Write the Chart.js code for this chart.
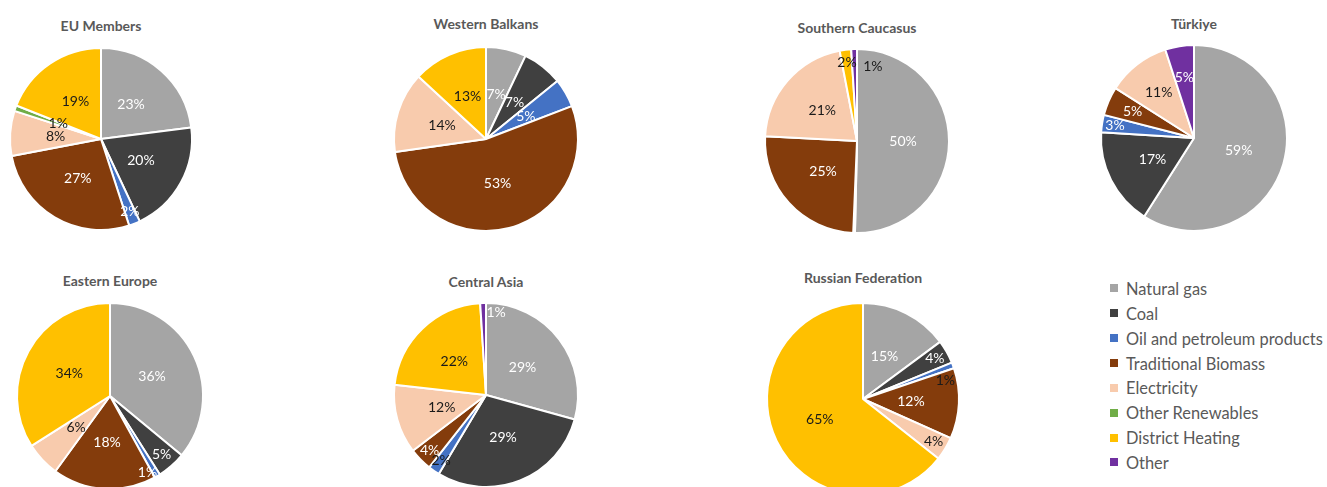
<!DOCTYPE html>
<html>
<head>
<meta charset="utf-8">
<script src="https://cdn.jsdelivr.net/npm/chart.js@4.4.1/dist/chart.umd.min.js"></script>
<style>
  html, body { margin: 0; padding: 0; background: #fff; width: 1327px; height: 487px; overflow: hidden; }
  body { position: relative; font-family: Lato, "Open Sans", sans-serif; }
  canvas.pie { position: absolute; }
  .title { position: absolute; font: bold 14px Lato, sans-serif; color: #595959; transform: translate(-50%, -50%); white-space: nowrap; }
  #legend { position: absolute; left: 1110px; top: 276px; font: 16.4px Lato, sans-serif; color: #595959; }
  #legend .item { height: 24.86px; display: flex; align-items: center; white-space: nowrap; }
  #legend .sw { width: 8px; height: 8px; margin-right: 8px; flex: none; }
</style>
</head>
<body>
<div id="legend"></div>
<script>
// Energy sources used for heating, share of final consumption (%)
const categories = ['Natural gas', 'Coal', 'Oil and petroleum products', 'Traditional Biomass',
                    'Electricity', 'Other Renewables', 'District Heating', 'Other'];
const regions = ['EU Members', 'Western Balkans', 'Southern Caucasus', 'Türkiye',
                 'Eastern Europe', 'Central Asia', 'Russian Federation'];

// One array per region, values in category order
const euMembers         = [23, 20, 2,   27,  8, 1, 19, 0];
const westernBalkans    = [ 7,  7, 5,   53, 14, 0, 13, 0];
const southernCaucasus  = [50,  0, 0.3, 25, 21, 0,  2, 1];
const turkiye           = [59, 17, 3,    5, 11, 0,  0, 5];
const easternEurope     = [36,  5, 1,   18,  6, 0, 34, 0];
const centralAsia       = [29, 29, 2,    4, 12, 0, 22, 1];
const russianFederation = [15,  4, 1,   12,  4, 0, 65, 0];

const seriesByRegion = [euMembers, westernBalkans, southernCaucasus, turkiye,
                        easternEurope, centralAsia, russianFederation];

// Styling
const colors = ['#A5A5A5', '#404040', '#4472C4', '#843C0C', '#F8CBAD', '#70AD47', '#FFC000', '#7030A0'];
const darkText = '#1a1a1a';
const lightText = '#ffffff';
const labelColorDefault = [lightText, lightText, lightText, lightText, darkText, darkText, darkText, lightText];

// Pie placement on the page: centre and radius (px), title centre y
const frames = [
  { cx: 101,  cy: 139, r: 91, ty: 25 },
  { cx: 486,  cy: 139, r: 92, ty: 23 },
  { cx: 857,  cy: 141, r: 92, ty: 27 },
  { cx: 1194, cy: 138, r: 93, ty: 23 },
  { cx: 110,  cy: 396, r: 93, ty: 280 },
  { cx: 486,  cy: 395, r: 92, ty: 281 },
  { cx: 863,  cy: 399, r: 96, ty: 277 }
];

// Label placement tweaks: radial fraction, optional absolute angle (deg clockwise from top), colour
const labelTweaks = {
  'EU Members':        { 5: { f: 0.5 } },
  'Western Balkans':   { 2: { f: 0.5 } },
  'Southern Caucasus': { 7: { f: 0.83, a: 12, c: darkText } },
  'Türkiye':           { 4: { f: 0.62 }, 7: { f: 0.66 } },
  'Eastern Europe':    { 1: { f: 0.84 }, 2: { f: 0.92, a: 154 } },
  'Central Asia':      { 2: { c: darkText }, 7: { f: 0.9, a: 7 } },
  'Russian Federation':{ 2: { f: 0.88, a: 77, c: darkText } }
};

function defaultFraction(v) {
  if (v < 5) return 0.86;
  if (v < 6) return 0.72;
  return 0.5;
}

const pctLabels = {
  id: 'pctLabels',
  afterDatasetsDraw(chart) {
    const ctx = chart.ctx;
    const meta = chart.getDatasetMeta(0);
    const data = chart.data.datasets[0].data;
    const tweaks = labelTweaks[chart.options.plugins.regionName] || {};
    ctx.save();
    ctx.font = '14px Lato, sans-serif';
    ctx.textAlign = 'center';
    ctx.textBaseline = 'middle';
    meta.data.forEach((arc, i) => {
      const v = data[i];
      if (v < 1) return;
      const t = tweaks[i] || {};
      const p = arc.getProps(['x', 'y', 'startAngle', 'endAngle', 'outerRadius'], true);
      let ang = (p.startAngle + p.endAngle) / 2;
      if (t.a !== undefined) ang = t.a * Math.PI / 180 - Math.PI / 2;
      const f = t.f !== undefined ? t.f : defaultFraction(v);
      const x = p.x + Math.cos(ang) * p.outerRadius * f;
      const y = p.y + Math.sin(ang) * p.outerRadius * f;
      ctx.fillStyle = t.c || labelColorDefault[i];
      ctx.fillText(Math.round(v) + '%', x, y);
    });
    ctx.restore();
  }
};

regions.forEach((name, k) => {
  const fr = frames[k];
  const size = 2 * fr.r + 12;
  const cv = document.createElement('canvas');
  cv.className = 'pie';
  cv.width = size; cv.height = size;
  cv.style.width = size + 'px'; cv.style.height = size + 'px';
  cv.style.left = (fr.cx - size / 2) + 'px';
  cv.style.top = (fr.cy - size / 2) + 'px';
  document.body.appendChild(cv);

  const title = document.createElement('div');
  title.className = 'title';
  title.textContent = name;
  title.style.left = fr.cx + 'px';
  title.style.top = fr.ty + 'px';
  document.body.appendChild(title);

  new Chart(cv, {
    type: 'pie',
    data: {
      labels: categories,
      datasets: [{
        data: seriesByRegion[k],
        backgroundColor: colors,
        borderColor: '#ffffff',
        borderWidth: 2
      }]
    },
    options: {
      responsive: false,
      animation: false,
      radius: fr.r,
      layout: { padding: 0 },
      plugins: {
        regionName: name,
        legend: { display: false },
        title: { display: false },
        tooltip: { enabled: false }
      }
    },
    plugins: [pctLabels]
  });
});

// Shared legend
const legend = document.getElementById('legend');
categories.forEach((c, i) => {
  const row = document.createElement('div');
  row.className = 'item';
  const sw = document.createElement('span');
  sw.className = 'sw';
  sw.style.background = colors[i];
  const tx = document.createElement('span');
  tx.textContent = c;
  row.appendChild(sw);
  row.appendChild(tx);
  legend.appendChild(row);
});
</script>
</body>
</html>
